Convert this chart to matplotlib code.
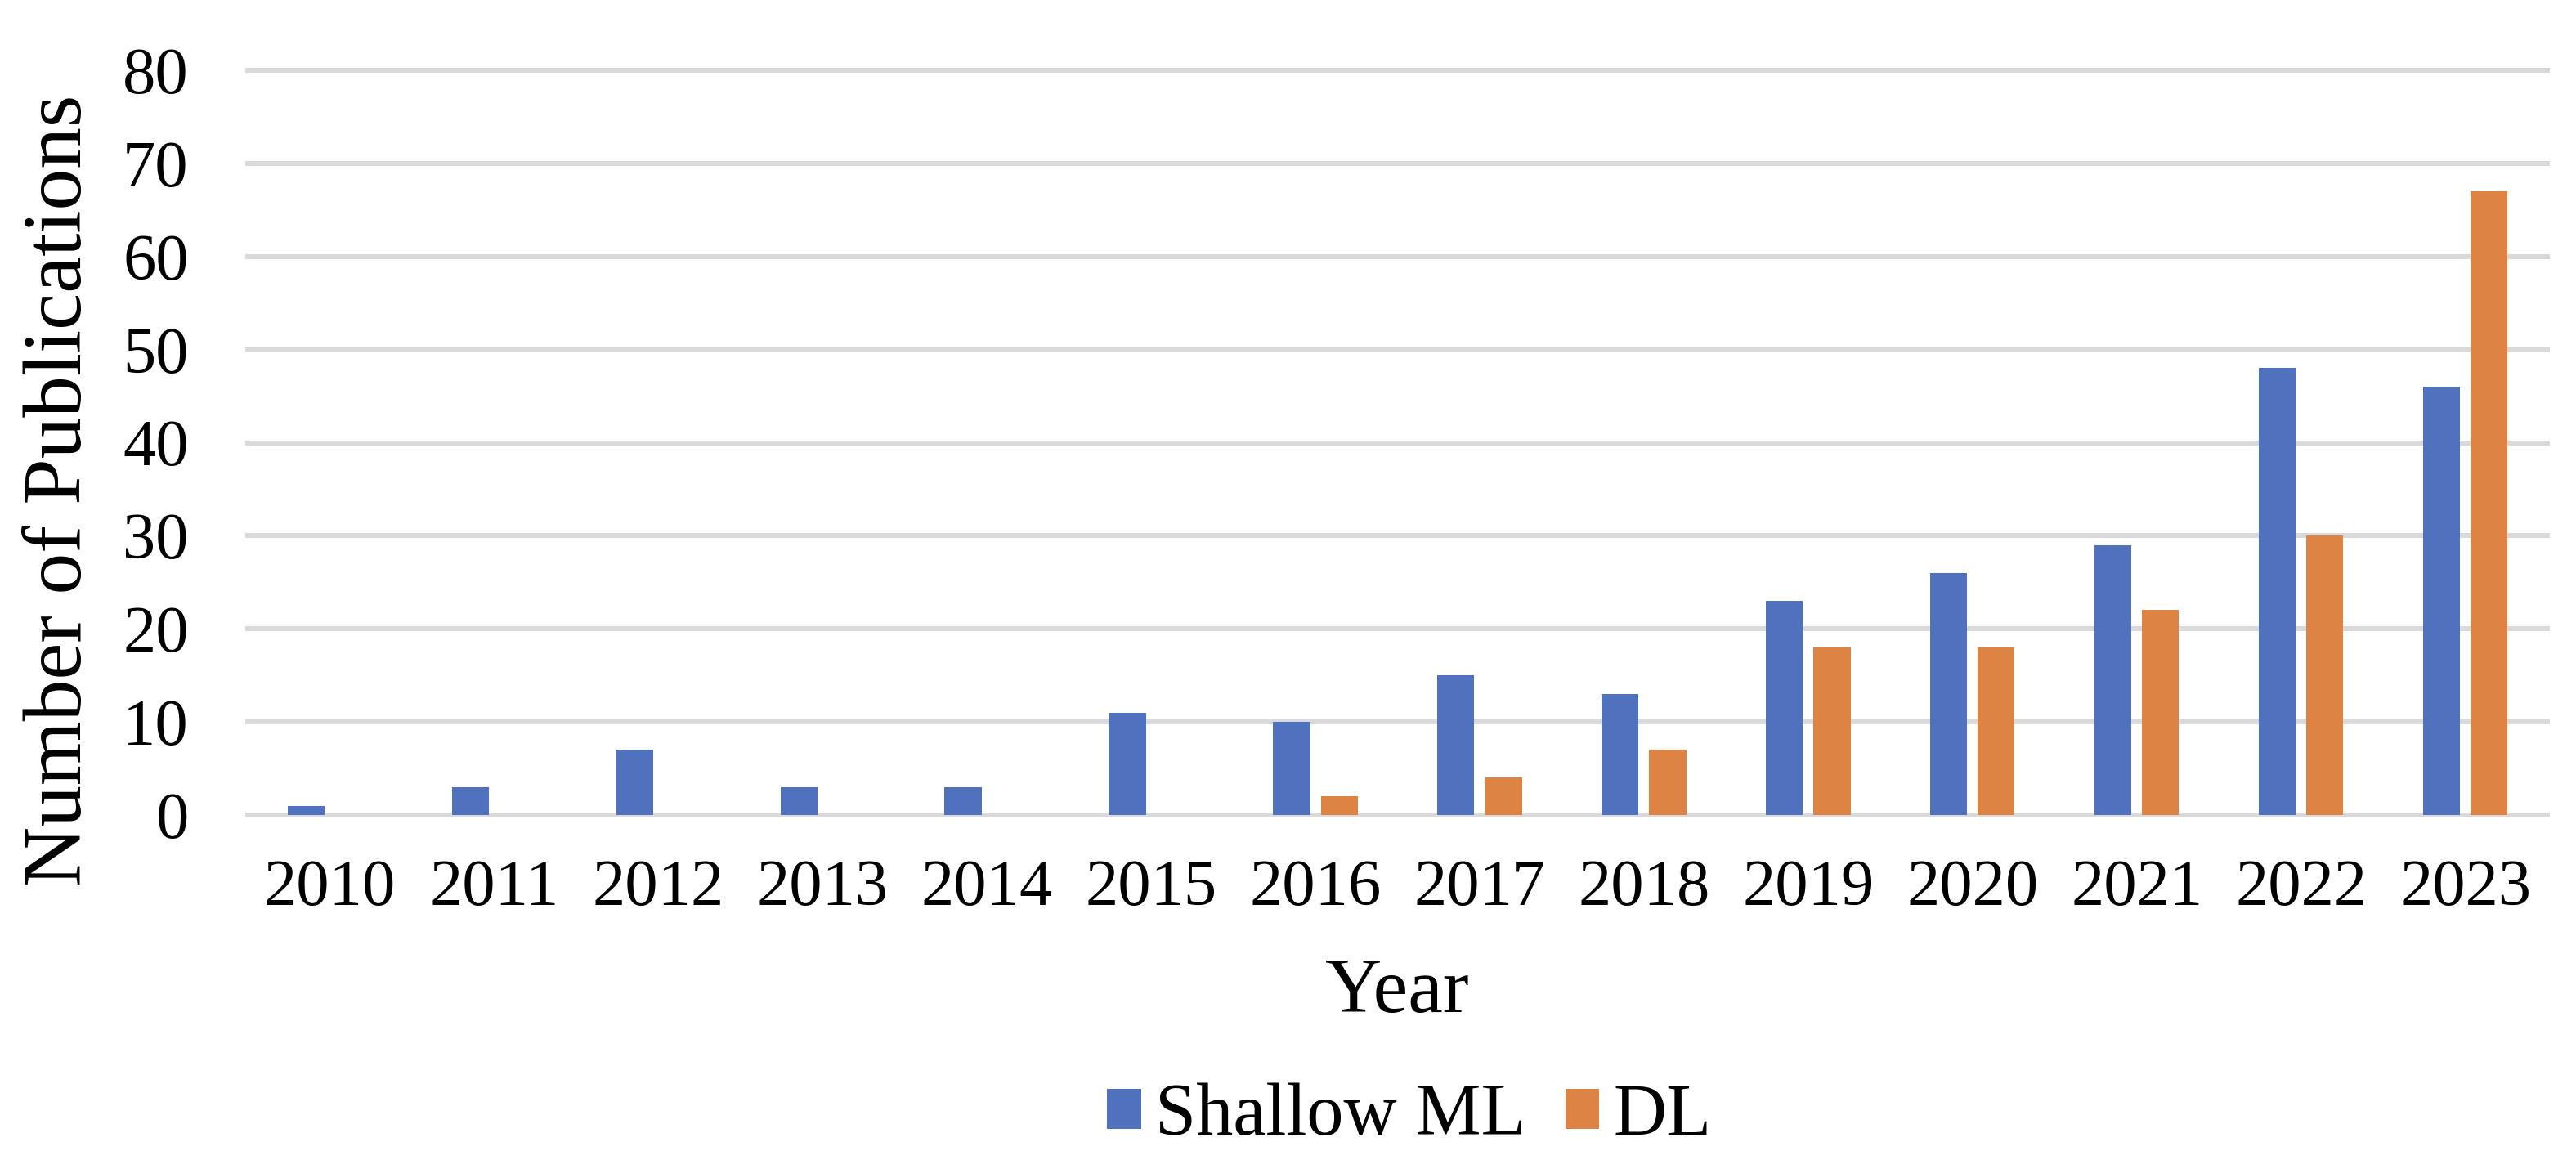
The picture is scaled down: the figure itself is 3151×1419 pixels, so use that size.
import matplotlib.pyplot as plt
import numpy as np

plt.rcParams["font.family"] = ["Liberation Serif", "DejaVu Serif"]

years = ["2010", "2011", "2012", "2013", "2014", "2015", "2016",
         "2017", "2018", "2019", "2020", "2021", "2022", "2023"]
shallow_ml = [1, 3, 7, 3, 3, 11, 10, 15, 13, 23, 26, 29, 48, 46]
dl = [0, 0, 0, 0, 0, 0, 2, 4, 7, 18, 18, 22, 30, 67]

W, H = 3151, 1419
fig = plt.figure(figsize=(W / 100, H / 100), dpi=100)
ax = fig.add_axes([303 / W, 1 - 997 / H, 2813 / W, (997 - 86) / H])

x = np.arange(len(years))
width = 0.225
offset = 0.145
ax.bar(x - offset, shallow_ml, width=width, color="#4F71BE", label="Shallow ML", zorder=3)
ax.bar(x + offset, dl, width=width, color="#DD8344", label="DL", zorder=3)

ax.set_xlim(-0.5, len(years) - 0.5)
ax.set_ylim(0, 80)
ax.set_yticks(np.arange(0, 81, 10))
ax.set_xticks(x, labels=years)

ax.yaxis.grid(True, color="#D9D9D9", linewidth=4.3, zorder=0)
for line in ax.get_ygridlines():
    line.set_clip_on(False)
ax.set_axisbelow(True)
for spine in ax.spines.values():
    spine.set_visible(False)

ax.tick_params(axis="y", length=0, pad=52, labelsize=58)
ax.tick_params(axis="x", length=0, pad=39, labelsize=58)

fig.text(99 / W, 1 - 600 / H, "Number of Publications", rotation=90,
         rotation_mode="anchor", ha="center", va="baseline", fontsize=73)
fig.text(1709 / W, 1 - 1238 / H, "Year", ha="center", va="baseline", fontsize=69)

fig.legend(loc="center", bbox_to_anchor=(1724 / W, 1 - 1366 / H), ncol=2,
           frameon=False, fontsize=65, handlelength=0.46, handleheight=0.46,
           handletextpad=0.19, columnspacing=0.53, borderpad=0)

fig.savefig("out.png", dpi=100)
